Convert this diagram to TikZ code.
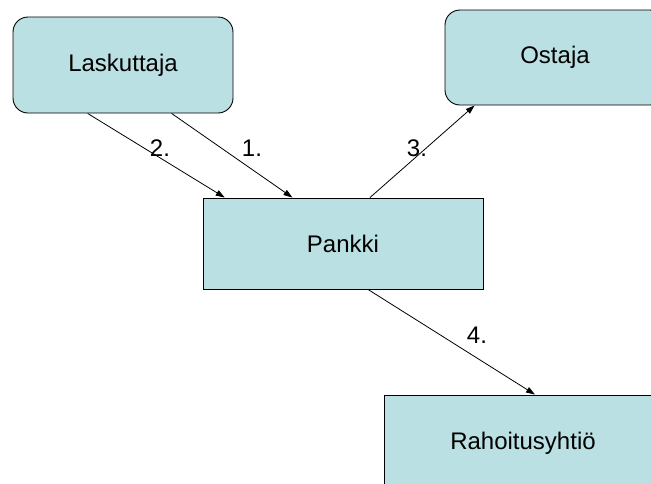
\documentclass[tikz,border=0pt]{standalone}
\usepackage{fontspec}
\setmainfont{Liberation Sans}
\usetikzlibrary{calc,arrows.meta}
\definecolor{boxfill}{RGB}{187,224,227}
\tikzset{
  box/.style={draw=black, line width=0.9pt, fill=boxfill, inner sep=0pt, font=\fontsize{24}{28}\selectfont},
  rbox/.style={box, rounded corners=15pt},
  arr/.style={draw=black, line width=0.8pt, -{Triangle[length=9pt,width=6pt]}},
  lbl/.style={font=\fontsize{24}{28}\selectfont, inner sep=0pt}
}
\begin{document}
\begin{tikzpicture}[x=1pt,y=-1pt]
\path[use as bounding box] (0,0) rectangle (651,483);
\clip (0,0) rectangle (651,483);
\node[rbox, minimum width=220pt, minimum height=96pt] (L) at (123,65) {Laskuttaja};
\node[rbox, minimum width=220pt, minimum height=95pt] (O) at (555,57.5) {\raisebox{-2pt}{Ostaja}};
\node[box, minimum width=280pt, minimum height=91pt] (P) at (343,243.5) {Pankki};
\node[box, minimum width=278pt, minimum height=96pt] (R) at (523,443) {Rahoitusyhtiö};
\coordinate (l2) at ($(L.south west)!0.34!(L.south east)$);
\coordinate (l1) at ($(L.south west)!0.72!(L.south east)$);
\coordinate (p2) at ($(P.north west)!0.079!(P.north east)$);
\coordinate (p1) at ($(P.north west)!0.32!(P.north east)$);
\coordinate (p3) at ($(P.north west)!0.596!(P.north east)$);
\coordinate (o3) at ($(O.south west)!0.136!(O.south east)$);
\coordinate (p4) at ($(P.south west)!0.589!(P.south east)$);
\coordinate (r4) at ($(R.north west)!0.543!(R.north east)$);
\draw[arr] (l2) -- (p2);
\draw[arr] (l1) -- (p1);
\draw[arr] (p3) -- (o3);
\draw[arr] (p4) -- (r4);
\node[lbl] (n2) at (160,148) {2.};
\node[lbl] (n1) at (252,148) {1.};
\node[lbl] (n3) at (417,148) {3.};
\node[lbl] (n4) at (477,335) {4.};
\end{tikzpicture}
\end{document}
